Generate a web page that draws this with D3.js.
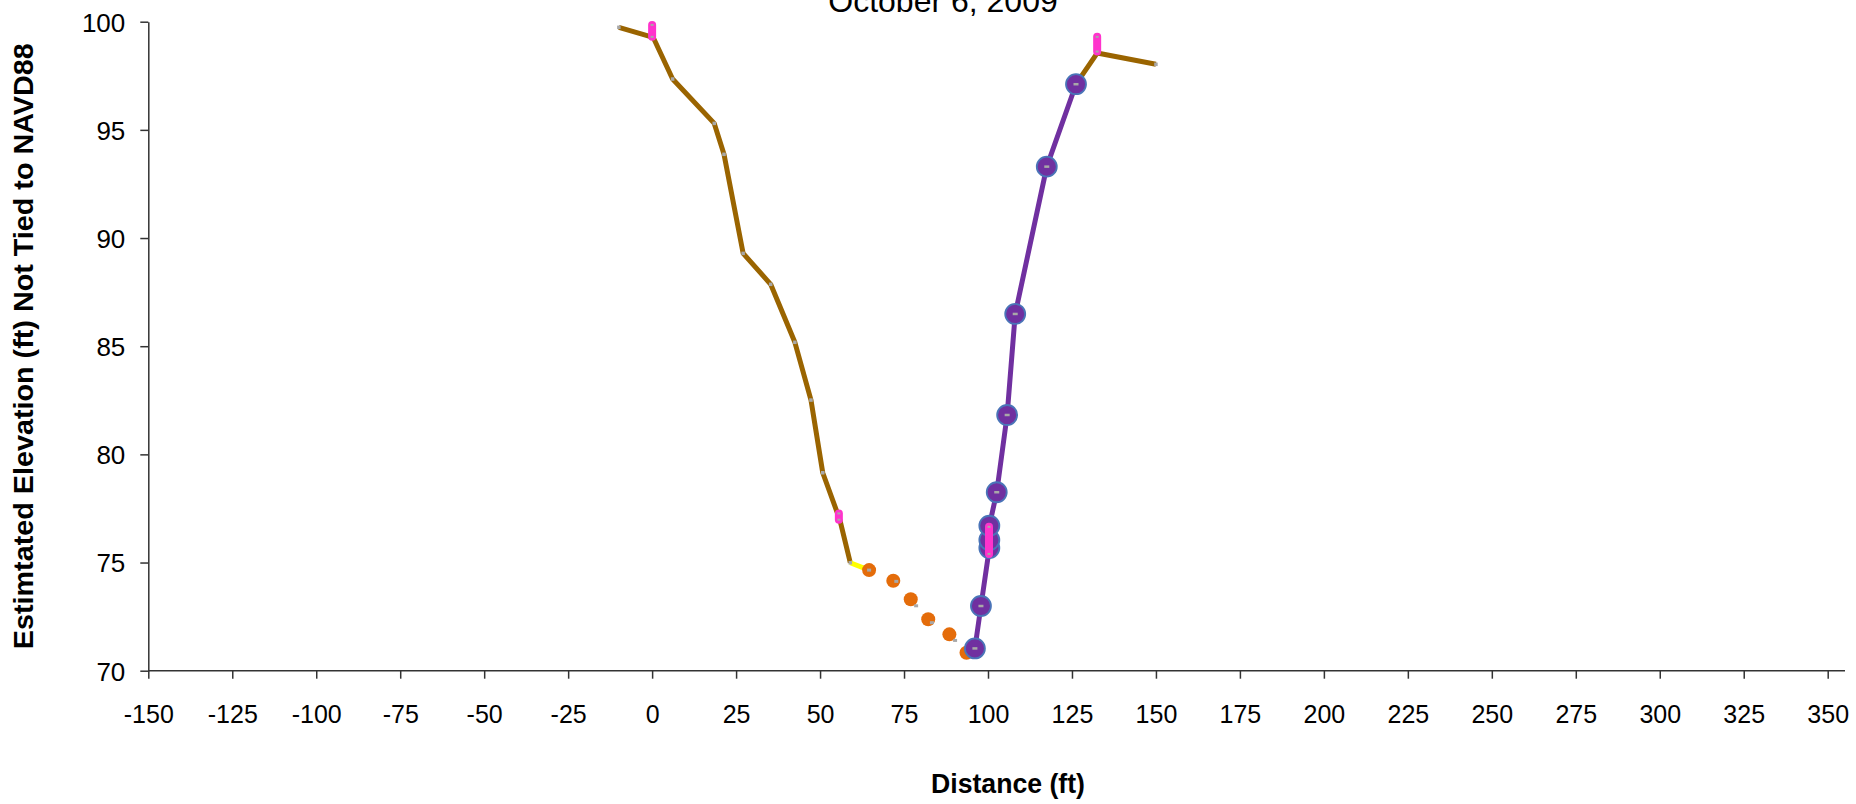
<!DOCTYPE html>
<html>
<head>
<meta charset="utf-8">
<script src="https://cdn.jsdelivr.net/npm/d3@7"></script>
<style>
  html, body { margin: 0; padding: 0; background: #fff; overflow: hidden; }
  svg { display: block; font-family: "Liberation Sans", Arial, sans-serif; }
</style>
</head>
<body>
<script>
// survey data
const leftBankX = [-9.9, 0.3, 6.1, 18.5, 21.4, 27.1, 35.3, 42.5, 47.3, 50.8, 55.9, 59.0];
const leftBankY = [99.74, 99.28, 97.35, 95.30, 93.87, 89.29, 87.86, 85.18, 82.51, 79.15, 76.97, 74.99];

const rightBankX = [126.2, 132.5, 150.0];
const rightBankY = [97.11, 98.55, 98.03];

const edgeX = [59.0, 64.6];
const edgeY = [74.99, 74.65];

const soundingX = [64.6, 71.8, 77.0, 82.2, 88.5, 93.6];
const soundingY = [74.65, 74.16, 73.30, 72.38, 71.68, 70.83];

const gpsX = [64.6, 72.7, 78.6, 83.3, 90.2, 94.4];
const gpsY = [74.65, 74.13, 73.00, 72.22, 71.40, 70.77];

const wallX = [96.1, 97.9, 100.4, 100.4, 100.4, 102.6, 105.7, 108.1, 117.5, 126.2];
const wallY = [71.03, 72.99, 75.67, 76.04, 76.70, 78.25, 81.82, 86.49, 93.30, 97.11];

// water surface marks, each a short vertical pair
const waterX = [0.0, 55.6, 100.3, 132.5];
const waterTop = [99.85, 77.27, 76.65, 99.30];
const waterBottom = [99.30, 76.98, 75.40, 98.62];

const xTicks = d3.range(-150, 351, 25);
const yTicks = d3.range(70, 101, 5);

const W = 1856, H = 804;
const plotLeft = 148.3, plotRight = 1827.7, plotTop = 21.7, plotBottom = 670.7;

const svg = d3.select("body").append("svg")
  .attr("width", W)
  .attr("height", H);

const x = d3.scaleLinear().domain([-150, 350]).range([plotLeft, plotRight]);
const y = d3.scaleLinear().domain([70, 100]).range([plotBottom, plotTop]);

const axisColor = "#333";
const plain = d => String(d); // keep the ascii hyphen like the original

// x axis
const gx = svg.append("g")
  .attr("transform", `translate(0, ${plotBottom})`)
  .call(d3.axisBottom(x).tickValues(xTicks).tickFormat(plain).tickSize(8).tickSizeOuter(0));
gx.select(".domain").remove();
gx.append("line")
  .attr("x1", plotLeft).attr("x2", 1845)
  .attr("stroke", axisColor).attr("stroke-width", 1.5);
gx.selectAll(".tick line").attr("stroke", axisColor).attr("stroke-width", 1.5);
gx.selectAll(".tick text")
  .attr("y", 52).attr("dy", 0)
  .attr("fill", "#000")
  .style("font-size", "25px")
  .style("font-family", "'Liberation Sans', Arial, sans-serif");

// y axis
const gy = svg.append("g")
  .attr("transform", `translate(${plotLeft}, 0)`)
  .call(d3.axisLeft(y).tickValues(yTicks).tickFormat(plain).tickSize(8).tickPadding(15).tickSizeOuter(0));
gy.select(".domain").attr("stroke", axisColor).attr("stroke-width", 1.5);
gy.selectAll(".tick line").attr("stroke", axisColor).attr("stroke-width", 1.5);
gy.selectAll(".tick text")
  .attr("fill", "#000")
  .attr("dy", "0.36em")
  .style("font-size", "26px")
  .style("font-family", "'Liberation Sans', Arial, sans-serif");

// titles
svg.append("text")
  .attr("x", 943).attr("y", 12)
  .attr("text-anchor", "middle")
  .style("font-size", "32px")
  .text("October 6, 2009");

svg.append("text")
  .attr("x", 1008).attr("y", 793)
  .attr("text-anchor", "middle")
  .style("font-size", "27px").style("font-weight", "bold")
  .attr("textLength", 154).attr("lengthAdjust", "spacingAndGlyphs")
  .text("Distance (ft)");

svg.append("text")
  .attr("transform", `translate(33, ${(plotTop + plotBottom) / 2}) rotate(-90)`)
  .attr("text-anchor", "middle")
  .style("font-size", "28px").style("font-weight", "bold")
  .attr("textLength", 606).attr("lengthAdjust", "spacingAndGlyphs")
  .text("Estimtated Elevation (ft) Not Tied to NAVD88");

const zip = (xs, ys) => xs.map((v, i) => [v, ys[i]]);
const line = d3.line().x(d => x(d[0])).y(d => y(d[1]));
const plot = svg.append("g");

const brown = "#9a6400";
const grey = "#a8a8a8";

function drawLine(pts, color, width) {
  plot.append("path")
    .datum(pts)
    .attr("d", line)
    .attr("fill", "none")
    .attr("stroke", color)
    .attr("stroke-width", width)
    .attr("stroke-linejoin", "round");
}

function greyMarks(pts, w, h) {
  plot.append("g").selectAll("rect")
    .data(pts)
    .join("rect")
    .attr("x", d => x(d[0]) - w / 2)
    .attr("y", d => y(d[1]) - h / 2)
    .attr("width", w).attr("height", h)
    .attr("fill", grey);
}

const leftBank = zip(leftBankX, leftBankY);
const rightBank = zip(rightBankX, rightBankY);
drawLine(leftBank, brown, 5);
drawLine(rightBank, brown, 5);
drawLine(zip(edgeX, edgeY), "#ffff00", 5);
greyMarks(leftBank, 3.5, 3.5);
greyMarks(rightBank, 3.5, 3.5);

// soundings
plot.append("g").selectAll("circle")
  .data(zip(soundingX, soundingY))
  .join("circle")
  .attr("cx", d => x(d[0])).attr("cy", d => y(d[1]))
  .attr("r", 7)
  .attr("fill", "#e46c0a");
greyMarks(zip(gpsX, gpsY), 4, 3);

// channel wall
const wall = zip(wallX, wallY);
drawLine(wall, "#7030a0", 5);
plot.append("g").selectAll("circle")
  .data(wall)
  .join("circle")
  .attr("cx", d => x(d[0])).attr("cy", d => y(d[1]))
  .attr("r", 10)
  .attr("fill", "#7030a0")
  .attr("stroke", "#4a74b8")
  .attr("stroke-width", 1.8);
greyMarks(wall, 5, 2.5);

// water surface
const water = waterX.map((v, i) => [[v, waterTop[i]], [v, waterBottom[i]]]);
water.forEach(seg => {
  plot.append("path")
    .datum(seg)
    .attr("d", line)
    .attr("stroke", "#ff33cc")
    .attr("stroke-width", 8)
    .attr("stroke-linecap", "round");
});
greyMarks(water.flat(), 3, 2);
</script>
</body>
</html>
